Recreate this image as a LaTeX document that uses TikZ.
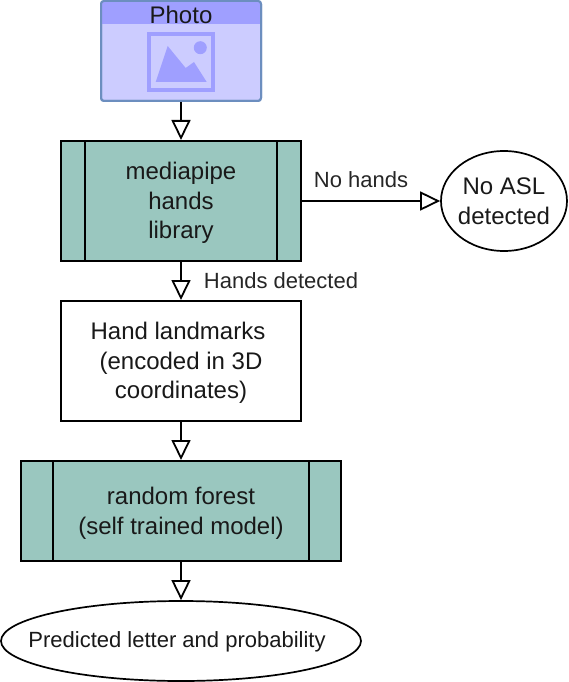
\documentclass[tikz,border=0pt]{standalone}
\usepackage{fontspec}
\setmainfont{Liberation Sans}
\usetikzlibrary{arrows.meta,calc,shapes.geometric}
\definecolor{procfill}{HTML}{9AC7BF}
\definecolor{phbody}{HTML}{CCCCFF}
\definecolor{phhead}{HTML}{9F9FFF}
\definecolor{phline}{HTML}{6C8EBF}
\newcommand{\textlines}[1]{\raisebox{-2.5pt}[\height][\depth]{\begin{tabular}{@{}c@{}}#1\end{tabular}}}
\tikzset{
  base/.style={draw=black,line width=2pt,align=center,inner sep=0pt,font=\fontsize{24}{29.5}\selectfont,text=black!90},
  proc/.style={base,rectangle,fill=procfill},
  term/.style={base,ellipse,line width=1.7pt,fill=white},
  flow/.style={draw=black,line width=2pt,-{Triangle[open,length=20pt,width=19pt,line width=1.8pt]},shorten >=0pt},
  lab/.style={font=\fontsize{22}{26}\selectfont,text=black!85,inner sep=0pt},
  inner/.style={draw=black,line width=2pt}
}
\begin{document}
\begin{tikzpicture}[x=1pt,y=-1pt]
\useasboundingbox (0,0) rectangle (568,682);
% Photo
\node[draw=phline,line width=2pt,fill=phbody,rounded corners=3pt,minimum width=160pt,minimum height=100pt,inner sep=0pt] (photo) at (181,51) {};
\begin{scope}
\clip[rounded corners=3pt] (101,1) rectangle (261,101);
\fill[phhead] (101,1) rectangle (261,24);
\end{scope}
\draw[phline,line width=2pt,rounded corners=3pt] (101,1) rectangle (261,101);
\node[font=\fontsize{24}{26}\selectfont,text=black!90,inner sep=0pt,anchor=base] (phototext) at (181,24) {Photo};
\draw[phhead,line width=4.3pt] (148.8,34) rectangle (213,90);
\fill[phhead] (155.7,82) -- (167.7,46) -- (185.7,68) -- (194,62) -- (206.7,82) -- cycle;
\fill[phhead] (200.3,47.7) circle (6.5pt);
% nodes
\node[proc,minimum width=240pt,minimum height=120pt] (mp) at (181,201) {\textlines{mediapipe\\hands\\library}};
\draw[inner] ($(mp.north west)+(25,0)$) -- ($(mp.south west)+(25,0)$);
\draw[inner] ($(mp.north east)+(-25,0)$) -- ($(mp.south east)+(-25,0)$);
\node[base,fill=white,minimum width=240pt,minimum height=120pt] (hl) at (181,361) {\textlines{Hand landmarks\hspace*{6pt}\\(encoded in 3D\\coordinates)}};
\node[proc,minimum width=320pt,minimum height=100pt] (rf) at (181,511) {\textlines{random forest\\(self trained model)}};
\draw[inner] ($(rf.north west)+(33,0)$) -- ($(rf.south west)+(33,0)$);
\draw[inner] ($(rf.north east)+(-33,0)$) -- ($(rf.south east)+(-33,0)$);
\node[term,minimum width=360pt,minimum height=80pt,font=\fontsize{22}{26}\selectfont] (pl) at (181,641) {\makebox[0pt]{\raisebox{-1pt}[\height][\depth]{Predicted letter and probability\hspace*{8pt}}}};
\node[term,minimum width=126pt,minimum height=100pt] (no) at (504,201) {\makebox[0pt]{\textlines{No ASL\\detected}}};
% connectors
\draw[flow] (photo.south) -- (mp.north);
\draw[flow] (mp.east) -- (no.west);
\draw[flow] (mp.south) -- (hl.north);
\draw[flow] (hl.south) -- (rf.north);
\draw[flow] (rf.south) -- (pl.north);
% labels
\node[lab] (nh) at (361,180) {No hands};
\node[lab] (hd) at (281,281) {Hands detected};
\end{tikzpicture}
\end{document}
